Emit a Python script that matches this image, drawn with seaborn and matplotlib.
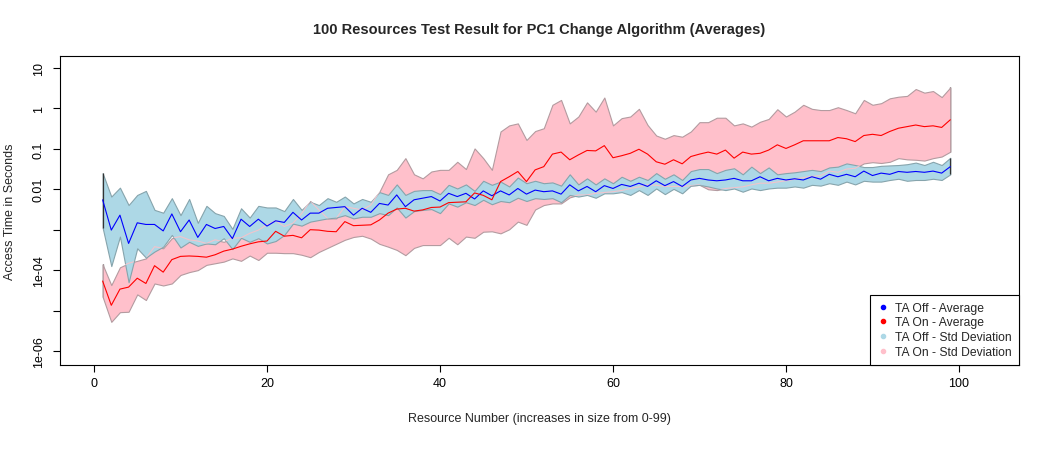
import numpy as np
import matplotlib
matplotlib.use("Agg")
import matplotlib.pyplot as plt
from matplotlib.lines import Line2D
import seaborn as sns

# resource index 1..99
resource = list(range(1, 100))

ta_off_avg = [
    -2.26, -3.01, -2.64, -3.34, -2.83, -2.87, -2.87, -3.03, -2.61, -3.05,
    -2.76, -3.19, -2.87, -2.97, -2.92, -3.22, -2.74, -2.92, -2.74, -2.91,
    -2.78, -2.82, -2.57, -2.76, -2.59, -2.59, -2.47, -2.45, -2.43, -2.64,
    -2.47, -2.57, -2.35, -2.39, -2.14, -2.43, -2.26, -2.22, -2.18, -2.29,
    -2.10, -2.18, -2.10, -2.24, -2.04, -2.16, -2.04, -2.14, -1.98, -2.12,
    -2.02, -2.06, -2.04, -2.12, -1.89, -2.04, -1.93, -2.06, -1.91, -1.98,
    -1.88, -1.93, -1.85, -1.93, -1.79, -1.91, -1.81, -1.93, -1.77, -1.73,
    -1.77, -1.79, -1.77, -1.73, -1.79, -1.79, -1.69, -1.79, -1.73, -1.77,
    -1.74, -1.77, -1.69, -1.75, -1.63, -1.69, -1.63, -1.69, -1.55, -1.66,
    -1.60, -1.63, -1.56, -1.58, -1.56, -1.58, -1.55, -1.60, -1.44,
]
ta_off_hi = [
    -1.60, -2.18, -1.96, -2.39, -2.14, -2.04, -2.51, -2.58, -2.22, -2.64,
    -2.24, -2.83, -2.41, -2.59, -2.66, -2.98, -2.47, -2.70, -2.41, -2.45,
    -2.45, -2.54, -2.24, -2.51, -2.31, -2.39, -2.22, -2.31, -2.18, -2.35,
    -2.24, -2.31, -2.07, -2.14, -1.88, -2.14, -2.04, -2.02, -2.02, -2.12,
    -1.89, -1.98, -1.88, -2.04, -1.79, -1.89, -1.81, -1.93, -1.71, -1.85,
    -1.79, -1.85, -1.83, -1.91, -1.63, -1.88, -1.73, -1.88, -1.73, -1.85,
    -1.69, -1.79, -1.69, -1.77, -1.60, -1.74, -1.63, -1.77, -1.55, -1.50,
    -1.50, -1.60, -1.52, -1.48, -1.63, -1.44, -1.60, -1.46, -1.63, -1.60,
    -1.58, -1.55, -1.52, -1.55, -1.46, -1.44, -1.36, -1.40, -1.45, -1.45,
    -1.42, -1.41, -1.40, -1.38, -1.34, -1.40, -1.32, -1.40, -1.22,
]
ta_off_lo = [
    -2.95, -3.90, -3.17, -4.30, -3.46, -3.69, -3.54, -3.42, -3.13, -3.44,
    -3.30, -3.40, -3.34, -3.36, -3.21, -3.48, -3.20, -3.30, -3.21, -3.34,
    -3.28, -3.13, -2.85, -2.90, -2.80, -2.76, -2.72, -2.70, -2.64, -2.72,
    -2.68, -2.68, -2.59, -2.64, -2.45, -2.70, -2.54, -2.51, -2.49, -2.59,
    -2.35, -2.43, -2.32, -2.39, -2.26, -2.37, -2.29, -2.32, -2.21, -2.29,
    -2.22, -2.24, -2.22, -2.32, -2.14, -2.18, -2.14, -2.21, -2.10, -2.10,
    -2.07, -2.14, -2.02, -2.14, -1.98, -2.12, -1.99, -2.10, -1.91, -1.89,
    -1.93, -1.98, -2.02, -1.98, -2.06, -1.98, -2.02, -1.98, -1.96, -1.96,
    -1.93, -1.96, -1.89, -1.91, -1.85, -1.89, -1.81, -1.88, -1.79, -1.81,
    -1.81, -1.77, -1.74, -1.79, -1.77, -1.77, -1.74, -1.77, -1.63,
]
ta_on_avg = [
    -4.27, -4.87, -4.47, -4.42, -4.20, -4.33, -3.89, -4.05, -3.74, -3.66,
    -3.65, -3.66, -3.68, -3.62, -3.53, -3.48, -3.41, -3.35, -3.30, -3.28,
    -3.04, -3.16, -3.14, -3.20, -3.00, -3.01, -3.04, -3.05, -2.80, -2.90,
    -2.89, -2.88, -2.76, -2.59, -2.49, -2.47, -2.54, -2.51, -2.45, -2.44,
    -2.33, -2.32, -2.31, -2.09, -2.15, -2.26, -1.81, -1.69, -1.56, -1.81,
    -1.52, -1.44, -1.13, -1.08, -1.27, -1.15, -1.04, -1.05, -0.92, -1.22,
    -1.17, -1.11, -1.01, -1.13, -1.32, -1.38, -1.27, -1.37, -1.19, -1.13,
    -1.08, -1.13, -1.03, -1.23, -1.08, -1.13, -1.11, -1.03, -0.90, -0.99,
    -0.90, -0.80, -0.80, -0.80, -0.80, -0.72, -0.75, -0.82, -0.67, -0.64,
    -0.67, -0.57, -0.49, -0.45, -0.41, -0.45, -0.43, -0.47, -0.28,
]
ta_on_hi = [
    -3.86, -4.37, -3.93, -3.83, -3.77, -3.71, -3.42, -3.46, -3.21, -3.17,
    -3.25, -3.28, -3.34, -3.25, -3.30, -3.21, -3.20, -3.09, -3.01, -2.88,
    -2.78, -2.92, -2.84, -2.60, -2.29, -2.51, -2.72, -2.72, -2.43, -2.47,
    -2.51, -2.39, -2.06, -1.63, -1.52, -1.23, -1.63, -1.73, -1.56, -1.52,
    -1.52, -1.32, -1.50, -0.99, -1.23, -1.52, -0.57, -0.42, -0.37, -0.78,
    -0.56, -0.49, 0.09, 0.21, -0.37, -0.20, 0.15, -0.08, 0.27, -0.42,
    -0.24, -0.20, -0.01, -0.41, -0.67, -0.75, -0.66, -0.70, -0.57, -0.34,
    -0.34, -0.23, -0.23, -0.42, -0.37, -0.45, -0.33, -0.26, -0.02, -0.20,
    -0.08, 0.09, -0.01, -0.04, -0.04, 0.03, -0.04, -0.12, 0.21, 0.09,
    0.13, 0.25, 0.29, 0.31, 0.48, 0.39, 0.43, 0.28, 0.52,
]
ta_on_lo = [
    -4.66, -5.28, -5.04, -5.03, -4.60, -4.74, -4.33, -4.38, -4.33, -4.12,
    -4.05, -4.00, -3.87, -3.83, -3.79, -3.71, -3.77, -3.64, -3.75, -3.57,
    -3.57, -3.58, -3.58, -3.62, -3.68, -3.55, -3.45, -3.35, -3.25, -3.18,
    -3.15, -3.22, -3.35, -3.42, -3.50, -3.63, -3.45, -3.38, -3.38, -3.38,
    -3.20, -3.36, -3.17, -3.20, -3.05, -3.04, -3.09, -2.99, -2.80, -2.88,
    -2.50, -2.39, -2.35, -2.35, -2.20, -2.14, -2.14, -2.10, -2.08, -2.06,
    -2.03, -1.98, -1.94, -1.89, -1.90, -1.93, -1.93, -1.93, -1.91, -1.89,
    -2.00, -2.02, -1.98, -1.96, -1.94, -1.89, -1.85, -1.85, -1.82, -1.79,
    -1.75, -1.71, -1.68, -1.66, -1.55, -1.58, -1.50, -1.48, -1.36, -1.33,
    -1.35, -1.32, -1.23, -1.26, -1.27, -1.29, -1.23, -1.19, -1.07,
]

y_ticks = [1e-06, 1e-05, 1e-04, 1e-03, 1e-02, 1e-01, 1, 10]
y_ticklabels = ["1e-06", "", "1e-04", "", "0.01", "0.1", "1", "10"]
x_ticks = [0, 20, 40, 60, 80, 100]

legend_labels = ["TA Off - Average", "TA On - Average",
                 "TA Off - Std Deviation", "TA On - Std Deviation"]
legend_colors = ["blue", "red", "lightblue", "pink"]

# -----------------------------
# figure set up (mimic R base graphics)
# -----------------------------
sns.set_style("white")
plt.rcParams['font.family'] = ['Liberation Sans', 'DejaVu Sans']

W, H = 1049, 460
fig = plt.figure(figsize=(W / 100, H / 100), dpi=100)
ax = fig.add_axes([60 / W, 1 - 366 / H, (1019 - 60) / W, (366 - 57) / H])

off_avg = 10 ** np.array(ta_off_avg)
off_hi = 10 ** np.array(ta_off_hi)
off_lo = 10 ** np.array(ta_off_lo)
on_avg = 10 ** np.array(ta_on_avg)
on_hi = 10 ** np.array(ta_on_hi)
on_lo = 10 ** np.array(ta_on_lo)

# std deviation bands: pink underneath, light blue on top
ax.fill_between(resource, on_lo, on_hi, facecolor="pink", edgecolor="#b39ba0", linewidth=0.8, zorder=1)
blue_band = ax.fill_between(resource, off_lo, off_hi, facecolor="lightblue", edgecolor="#86a4ac",
                            linewidth=0.8, zorder=2)

# pink band edges faintly showing through the blue band
for edge in (on_lo, on_hi):
    ln, = ax.plot(resource, edge, color="#f2c4cc", linewidth=0.8, zorder=3)
    ln.set_clip_path(blue_band.get_paths()[0], ax.transData)

# dark end caps of the polygons
ax.vlines([resource[0], resource[-1]], [off_lo[0], off_lo[-1]], [off_hi[0], off_hi[-1]],
          color="#333333", linewidth=0.9, zorder=3)
ax.vlines([resource[0], resource[-1]], [on_lo[0], on_lo[-1]], [on_hi[0], on_hi[-1]],
          color="#333333", linewidth=0.9, zorder=0.5)

sns.lineplot(x=resource, y=off_avg, ax=ax, color="blue", linewidth=0.8, zorder=4)
sns.lineplot(x=resource, y=on_avg, ax=ax, color="red", linewidth=0.8, zorder=4)

ax.set_yscale("log")
ax.set_xlim(-3.93, 106.94)
ax.set_ylim(10 ** -6.347, 10 ** 1.297)
ax.set_xticks(x_ticks)
ax.set_xticklabels([str(t) for t in x_ticks])
ax.set_yticks(y_ticks)
ax.set_yticklabels(y_ticklabels, rotation=90, va="center")
ax.minorticks_off()
ax.tick_params(axis="both", direction="out", length=5, width=0.8, labelsize=9,
               colors="black", bottom=True, left=True, pad=4)
ax.tick_params(axis="y", pad=6)

for sp in ax.spines.values():
    sp.set_visible(True)
    sp.set_color("black")
    sp.set_linewidth(0.8)

ax.set_xlabel("Resource Number (increases in size from 0-99)", fontsize=9, labelpad=16)
ax.set_ylabel("Access Time in Seconds", fontsize=9, labelpad=12)
fig.text((60 + 1019) / 2 / W, 1 - 30 / H, "100 Resources Test Result for PC1 Change Algorithm (Averages)",
         ha="center", va="center", fontsize=10.5, fontweight="bold")

handles = [Line2D([], [], marker="o", linestyle="", color=c, markersize=3) for c in legend_colors]
leg = ax.legend(handles, legend_labels, loc="lower right", bbox_to_anchor=(1, 0), borderaxespad=0,
                fontsize=8.7, frameon=True, fancybox=False, edgecolor="black", framealpha=1,
                handlelength=1.0, handletextpad=0.5, labelspacing=0.22, borderpad=0.6)
leg.get_frame().set_linewidth(0.8)

fig.savefig("out.png", dpi=100)
